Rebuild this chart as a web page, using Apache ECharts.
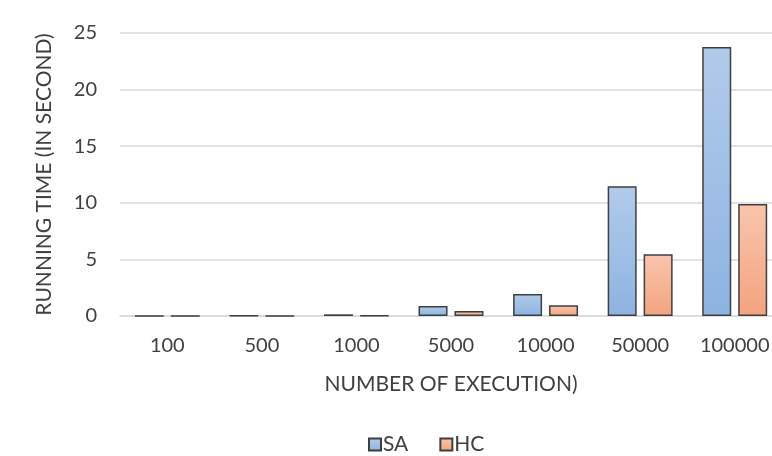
<!DOCTYPE html>
<html>
<head>
<meta charset="utf-8">
<script src="https://cdn.jsdelivr.net/npm/echarts@6/dist/echarts.min.js"></script>
<style>
  html, body { margin: 0; padding: 0; background: #ffffff; }
  #chart { width: 772px; height: 456px; }
</style>
</head>
<body>
<div id="chart"></div>
<script>
// Running time per number of executions
const categories = ['100', '500', '1000', '5000', '10000', '50000', '100000'];
const saValues = [0.02, 0.03, 0.15, 0.88, 1.94, 11.47, 23.77];
const hcValues = [0.01, 0.02, 0.04, 0.44, 0.94, 5.46, 9.9];
const yTicks = [0, 5, 10, 15, 20, 25];

const FONT = 'Lato';
const TEXT = '#404040';

function vGrad(top, bottom) {
  return new echarts.graphic.LinearGradient(0, 0, 0, 1, [
    { offset: 0, color: top },
    { offset: 1, color: bottom }
  ]);
}

const chart = echarts.init(document.getElementById('chart'));
chart.setOption({
  animation: false,
  textStyle: { fontFamily: FONT, color: TEXT },
  // plot area runs past the right edge of the canvas
  grid: {
    left: 120, width: 662, top: 33, height: 283,
    containLabel: false,
    outerBoundsMode: 'none'
  },
  legend: {
    top: 429,
    left: 363,
    icon: 'rect',
    itemWidth: 12,
    itemHeight: 12,
    itemGap: 31,
    textStyle: { fontFamily: FONT, fontSize: 21, color: TEXT, padding: [0, 0, 0, -3] },
    data: ['SA', 'HC']
  },
  xAxis: {
    type: 'category',
    data: categories,
    name: 'NUMBER OF EXECUTION)',
    nameLocation: 'middle',
    nameGap: 58,
    nameTextStyle: { fontFamily: FONT, fontSize: 21, color: TEXT },
    axisLine: { show: true, lineStyle: { color: '#d9d9d9', width: 1.5 } },
    axisTick: { show: false },
    axisLabel: { fontFamily: FONT, fontSize: 20, color: TEXT, margin: 20 }
  },
  yAxis: {
    type: 'value',
    min: yTicks[0],
    max: yTicks[yTicks.length - 1],
    interval: 5,
    name: 'RUNNING TIME (IN SECOND)',
    nameLocation: 'middle',
    nameGap: 65,
    nameTextStyle: { fontFamily: FONT, fontSize: 21, color: TEXT },
    axisLine: { show: false },
    axisTick: { show: false },
    axisLabel: { fontFamily: FONT, fontSize: 20, color: TEXT, margin: 23 },
    splitLine: { lineStyle: { color: '#d9d9d9', width: 1.5 } }
  },
  series: [
    {
      name: 'SA',
      type: 'bar',
      data: saValues,
      barWidth: 29,
      barGap: '24%',
      itemStyle: {
        color: vGrad('#b1cbea', '#8db3e2'),
        borderColor: '#3f3f3f',
        borderWidth: 1.5
      }
    },
    {
      name: 'HC',
      type: 'bar',
      data: hcValues,
      barWidth: 29,
      barGap: '24%',
      itemStyle: {
        color: vGrad('#f9c5ad', '#f4a37e'),
        borderColor: '#3f3f3f',
        borderWidth: 1.5
      }
    }
  ]
});
</script>
</body>
</html>
